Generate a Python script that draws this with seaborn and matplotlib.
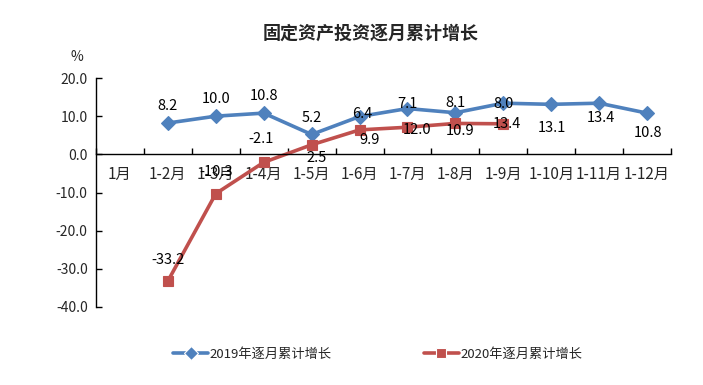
import seaborn as sns
import pandas as pd
import matplotlib.pyplot as plt
import numpy as np

months = ["1月", "1-2月", "1-3月", "1-4月", "1-5月", "1-6月", "1-7月",
          "1-8月", "1-9月", "1-10月", "1-11月", "1-12月"]
growth_2019 = [np.nan, 8.2, 10.0, 10.8, 5.2, 9.9, 12.0, 10.9, 13.4, 13.1, 13.4, 10.8]
growth_2020 = [np.nan, -33.2, -10.3, -2.1, 2.5, 6.4, 7.1, 8.1, 8.0, np.nan, np.nan, np.nan]
series_names = ["2019年逐月累计增长", "2020年逐月累计增长"]
y_ticks = [-40, -30, -20, -10, 0, 10, 20]

blue = "#4F81BD"
red = "#C0504D"

sns.set_theme(style="white")
plt.rcParams['font.family'] = ['Noto Sans CJK SC', 'DejaVu Sans']

pos = np.arange(len(months))
df = pd.DataFrame({
    "pos": np.concatenate([pos, pos]),
    "value": growth_2019 + growth_2020,
    "series": [series_names[0]] * len(months) + [series_names[1]] * len(months),
})

fig = plt.figure(figsize=(7.03, 3.85), dpi=100)
ax = fig.add_axes([96 / 703, 1 - 307 / 385, (671 - 96) / 703, (307 - 78) / 385])

sns.lineplot(data=df.dropna(), x="pos", y="value", hue="series", style="series",
             markers={series_names[0]: "D", series_names[1]: "s"}, dashes=False,
             palette={series_names[0]: blue, series_names[1]: red},
             linewidth=2.6, markersize=7.5, markeredgewidth=0.8, ax=ax)
for ln, c in zip(ax.lines, [blue, red]):
    ln.set_markeredgecolor(c)

ax.set_xlim(-0.5, len(months) - 0.5)
ax.set_ylim(-40, 20)
ax.set_yticks(y_ticks)
ax.set_yticklabels([f"{v:.1f}" for v in y_ticks], fontsize=10)
ax.set_xticks(np.arange(-0.5, len(months), 1.0))
ax.set_xticklabels([])
ax.set_xticks(pos, minor=True)
ax.set_xticklabels(months, minor=True, fontsize=10)
ax.tick_params(axis="x", which="major", direction="in", length=4, width=1, color="black", bottom=True)
ax.tick_params(axis="x", which="minor", length=0, pad=8)
ax.tick_params(axis="y", direction="in", length=4, width=1, color="black", left=True, pad=6)
ax.spines["bottom"].set_position(("data", 0))
for s in ["top", "right"]:
    ax.spines[s].set_visible(False)
for s in ["left", "bottom"]:
    ax.spines[s].set_color("black")
    ax.spines[s].set_linewidth(1)
ax.set_xlabel("")
ax.set_ylabel("")

# data labels as they sit in the original (some are swapped between the series)
labels = [
    # (text value, x index, anchor series, dx px, dy px)
    (growth_2019[1], 1, growth_2019, 0, 17),
    (growth_2019[2], 2, growth_2019, 0, 17),
    (growth_2019[3], 3, growth_2019, 0, 17),
    (growth_2019[4], 4, growth_2019, 0, 16),
    (growth_2020[5], 5, growth_2019, 3, 3),
    (growth_2020[6], 6, growth_2019, 0, 5),
    (growth_2020[7], 7, growth_2019, 0, 10),
    (growth_2020[8], 8, growth_2019, 0, -1),
    (growth_2019[5], 5, growth_2020, 10, -10),
    (growth_2019[6], 6, growth_2020, 10, -3),
    (growth_2019[7], 7, growth_2020, 5, -8),
    (growth_2019[8], 8, growth_2020, 4, 0),
    (growth_2019[9], 9, growth_2019, 1, -24),
    (growth_2019[10], 10, growth_2019, 2, -15),
    (growth_2019[11], 11, growth_2019, 1, -20),
    (growth_2020[1], 1, growth_2020, 0, 21),
    (growth_2020[2], 2, growth_2020, 0, 22),
    (growth_2020[3], 3, growth_2020, -3, 23),
    (growth_2020[4], 4, growth_2020, 5, -13),
]
for val, i, anchor, dx, dy in labels:
    ax.annotate(f"{val:.1f}", (i, anchor[i]), xytext=(dx, dy), textcoords="offset pixels",
                ha="center", va="center", fontsize=10.5, color="black")

fig.text(0.527, 1 - 33 / 385, "固定资产投资逐月累计增长", ha="center", va="center",
         fontsize=13, fontweight="bold")
fig.text(77 / 703, 1 - 57 / 385, "%", ha="center", va="center", fontsize=10)

handles, names = ax.get_legend_handles_labels()
ax.get_legend().remove()
fig.legend(handles, names, loc="center", bbox_to_anchor=(378 / 703, 1 - 354 / 385),
           ncol=2, frameon=False, fontsize=9.5, columnspacing=7, handlelength=2.6,
           handletextpad=0.15)

fig.savefig("out.png", dpi=100)
